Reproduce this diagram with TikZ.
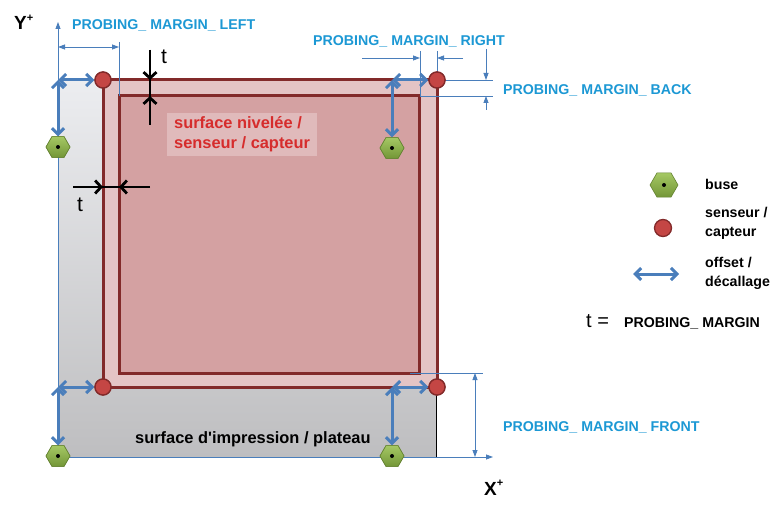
\documentclass[tikz,border=0pt]{standalone}
\usepackage{fontspec}
\setmainfont{Liberation Sans}
\usetikzlibrary{arrows.meta,shapes.geometric,calc}
\definecolor{lblue}{RGB}{28,152,212}
\definecolor{ablue}{RGB}{74,126,187}
\definecolor{dred}{RGB}{130,42,42}
\definecolor{sred}{RGB}{196,70,68}
\definecolor{ring}{RGB}{228,196,197}
\definecolor{innerc}{RGB}{212,161,162}
\definecolor{gtop}{RGB}{236,237,240}
\definecolor{gbot}{RGB}{190,190,192}
\definecolor{hexl}{RGB}{165,200,100}
\definecolor{hexd}{RGB}{115,150,55}
\definecolor{hexe}{RGB}{100,130,50}
\definecolor{txtred}{RGB}{214,44,44}
\definecolor{lblbg}{RGB}{224,186,187}
\tikzset{
  nozzle/.style={regular polygon, regular polygon sides=6, minimum size=24pt, inner sep=0pt,
    top color=hexl, bottom color=hexd, draw=hexe, line width=0.6pt},
  sensor/.style={circle, minimum size=16pt, inner sep=0pt, fill=sred, draw=dred, line width=1.3pt},
  dot/.style={circle, fill=black, minimum size=4pt, inner sep=0pt},
  offset/.style={ablue, line width=3pt, {Straight Barb[length=6pt,width=12pt]}-{Straight Barb[length=6pt,width=12pt]}},
  dimline/.style={ablue, line width=0.8pt},
  dimarr/.style={dimline, -{Triangle[length=7pt,width=5pt]}},
  tarr/.style={black, line width=2.8pt, -{Straight Barb[length=6pt,width=13pt]}},
  bluelab/.style={text=lblue, font=\bfseries\fontsize{14.2}{16}\selectfont, inner sep=0pt, anchor=base west},
  legtext/.style={font=\bfseries\fontsize{14.2}{19}\selectfont, inner sep=0pt, anchor=base west, align=left},
  bigtext/.style={font=\bfseries\fontsize{16.4}{20}\selectfont, inner sep=0pt, anchor=base west, align=left},
  axlab/.style={font=\bfseries\fontsize{19}{20}\selectfont, inner sep=0pt, anchor=base west},
  tlab/.style={font=\fontsize{21}{22}\selectfont, inner sep=0pt}
}
\begin{document}
\begin{tikzpicture}[x=1pt,y=-1pt]
\useasboundingbox (0,0) rectangle (781,516);
% print bed
\shade[top color=gtop, bottom color=gbot] (58,80) rectangle (436,457);
\draw[black, line width=0.8pt] (436,387) -- (436,457);
% outer and inner leveled surfaces
\draw[fill=ring, draw=dred, line width=3pt] (103,80) rectangle (437,387);
\draw[fill=innerc, draw=dred, line width=3pt] (119,96) rectangle (419,373);
% red label (base anchor = last line)
\fill[lblbg] (167,113) rectangle (317,156);
\node[bigtext, text=txtred] (lev) at (174,148) {surface nivelée /\\senseur / capteur};
\node[bigtext] (bed) at (135,443) {surface d\textquotesingle impression / plateau};
% axes
\coordinate (O) at (58,457);
\coordinate (Ytip) at (58,22);
\coordinate (Xtip) at (493,457);
\draw[dimarr] (O) -- (Ytip);
\draw[dimarr] (O) -- (Xtip);
\node[axlab] (ylab) at (14,30) {Y\raisebox{0.45em}{\fontsize{11}{11}\selectfont +}};
\node[axlab] (xlab) at (484,495) {X\raisebox{0.45em}{\fontsize{11}{11}\selectfont +}};
% dimension: left
\coordinate (dl1) at (58,47);
\coordinate (dl2) at (119,47);
\coordinate (el1) at (119,42);
\coordinate (el2) at (119,96);
\draw[dimline] (el1) -- (el2);
\draw[dimline, {Triangle[length=7pt,width=5pt]}-{Triangle[length=7pt,width=5pt]}] (dl1) -- (dl2);
\node[bluelab] (labL) at (72,30) {PROBING\_ MARGIN\_ LEFT};
% dimension: right
\coordinate (rA) at (362,58);
\coordinate (rB) at (420,58);
\coordinate (rC) at (437,58);
\coordinate (rD) at (463,58);
\coordinate (er1) at (420,51);
\coordinate (er2) at (420,96);
\coordinate (er3) at (437,51);
\coordinate (er4) at (437,80);
\draw[dimline] (er1) -- (er2);
\draw[dimline] (er3) -- (er4);
\draw[dimarr] (rA) -- (rB);
\draw[dimarr] (rD) -- (rC);
\node[bluelab] (labR) at (313,46) {PROBING\_ MARGIN\_ RIGHT};
% dimension: back
\coordinate (bA) at (486,49);
\coordinate (bB) at (486,80);
\coordinate (bC) at (486,96);
\coordinate (bD) at (486,110);
\coordinate (eb1) at (437,80);
\coordinate (eb2) at (493,80);
\coordinate (eb3) at (420,96);
\coordinate (eb4) at (493,96);
\draw[dimline] (eb1) -- (eb2);
\draw[dimline] (eb3) -- (eb4);
\draw[dimarr] (bA) -- (bB);
\draw[dimarr] (bD) -- (bC);
\node[bluelab] (labB) at (503,95) {PROBING\_ MARGIN\_ BACK};
% dimension: front
\coordinate (ef1) at (410,373);
\coordinate (ef2) at (483,373);
\coordinate (fA) at (475,373);
\coordinate (fB) at (475,457);
\draw[dimline] (ef1) -- (ef2);
\draw[dimline, {Triangle[length=7pt,width=5pt]}-{Triangle[length=7pt,width=5pt]}] (fA) -- (fB);
\node[bluelab] (labF) at (503,431) {PROBING\_ MARGIN\_ FRONT};
% nozzles and sensors
\node[nozzle] (nTL) at (58,147) {};
\node[nozzle] (nTR) at (392,148) {};
\node[nozzle] (nBL) at (58,456) {};
\node[nozzle] (nBR) at (392,456) {};
\coordinate (cTL) at (58,80);
\coordinate (cTR) at (392,80);
\coordinate (cBL) at (58,387);
\coordinate (cBR) at (392,387);
\node[sensor] (sTL) at (103,80) {};
\node[sensor] (sTR) at (437,80) {};
\node[sensor] (sBL) at (103,387) {};
\node[sensor] (sBR) at (437,387) {};
\draw[offset] (nTL.north) -- (cTL);
\draw[offset] (cTL) -- (sTL);
\draw[offset] (nTR.north) -- (cTR);
\draw[offset] (cTR) -- (sTR);
\draw[offset] (nBL.north) -- (cBL);
\draw[offset] (cBL) -- (sBL);
\draw[offset] (nBR.north) -- (cBR);
\draw[offset] (cBR) -- (sBR);
\node[nozzle] at (nTL) {};
\node[nozzle] at (nTR) {};
\node[nozzle] at (nBL) {};
\node[nozzle] at (nBR) {};
\node[sensor] at (sTL) {};
\node[sensor] at (sTR) {};
\node[sensor] at (sBL) {};
\node[sensor] at (sBR) {};
\node[dot] at (nTL) {};
\node[dot] at (nTR) {};
\node[dot] at (nBL) {};
\node[dot] at (nBR) {};
% t markers
\coordinate (tv1) at (150,50);
\coordinate (tv2) at (150,80);
\coordinate (tv3) at (150,96);
\coordinate (tv4) at (150,125);
\draw[black, line width=2.8pt] (tv1) -- (tv4);
\draw[tarr] (tv1) -- (tv2);
\draw[tarr] (tv4) -- (tv3);
\node[tlab] (t1) at (164,57) {t};
\coordinate (th1) at (73,187);
\coordinate (th2) at (103,187);
\coordinate (th3) at (119,187);
\coordinate (th4) at (150,187);
\draw[black, line width=2.8pt] (th1) -- (th4);
\draw[tarr] (th1) -- (th2);
\draw[tarr] (th4) -- (th3);
\node[tlab] (t2) at (80,205) {t};
% legend
\node[nozzle, minimum size=28pt] (lnoz) at (664,185) {};
\node[dot] at (lnoz) {};
\node[legtext] (lbuse) at (705,189) {buse};
\node[sensor, minimum size=17pt] (lsen) at (663,228) {};
\node[legtext] (lsent) at (705,236) {senseur /\\capteur};
\coordinate (lo1) at (633,274);
\coordinate (lo2) at (679,274);
\draw[offset] (lo1) -- (lo2);
\node[legtext] (loff) at (705,286) {offset /\\décallage};
\node[font=\fontsize{20}{22}\selectfont, inner sep=0pt, anchor=base west] (lt) at (586,327) {t =};
\node[font=\bfseries\fontsize{14.2}{16}\selectfont, inner sep=0pt, anchor=base west] (ltm) at (624,327) {PROBING\_ MARGIN};
\end{tikzpicture}
\end{document}
